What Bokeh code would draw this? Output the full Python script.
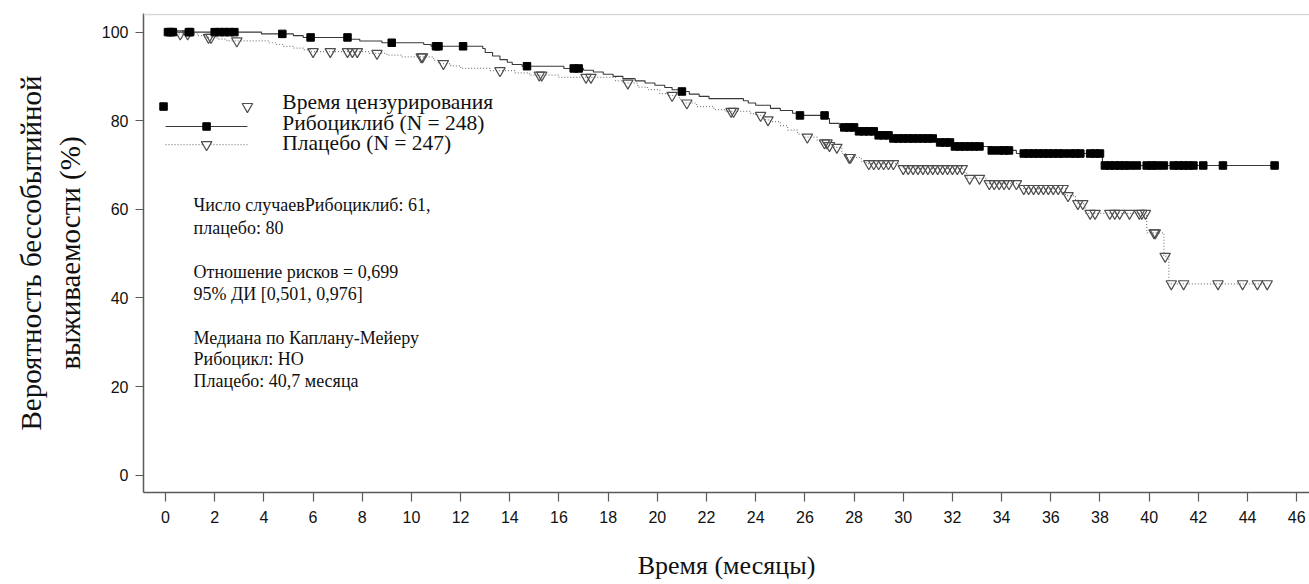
import numpy as np
from bokeh.plotting import figure
from bokeh.models import Range1d, Span, Label, FixedTicker
from bokeh.embed import file_html
from bokeh.resources import INLINE

# ---------------- data ----------------
rib_step_t = [0.0, 3.9, 5.2, 5.6, 7.5, 7.9, 8.8, 10.5, 10.8, 12.9, 13.0, 13.3, 13.6, 13.9,
              14.1, 14.5, 16.2, 17.0, 17.4, 17.8, 18.2, 18.6, 19.1, 19.5, 19.9, 20.3, 20.6,
              20.9, 21.3, 21.7, 22.1, 23.5, 23.7, 24.0, 24.6, 25.0, 25.5, 25.7, 26.9, 27.0,
              27.4, 28.1, 28.9, 29.5, 31.4, 32.0, 33.6, 34.6, 38.1]
rib_step_s = [100.0, 99.6, 99.2, 98.8, 98.4, 98.0, 97.6, 97.2, 96.8, 96.3, 95.4, 94.6, 93.8, 93.2,
              92.7, 92.3, 91.8, 91.4, 91.0, 90.5, 90.0, 89.5, 89.0, 88.5, 88.0, 87.5, 87.0,
              86.6, 86.0, 85.5, 85.0, 84.5, 84.0, 83.5, 82.8, 82.3, 81.7, 81.2, 80.5, 79.4,
              78.5, 77.6, 76.7, 76.0, 75.1, 74.2, 73.3, 72.6, 69.9]
rib_end = 45.2

pla_step_t = [0.0, 0.4, 1.3, 1.6, 2.1, 2.5, 4.2, 4.5, 4.8, 5.2, 5.6, 5.9, 8.3, 9.0, 9.6, 10.9,
              11.1, 11.6, 12.0, 13.2, 14.2, 14.8, 16.0, 18.3, 18.6, 19.2, 19.6, 20.1, 20.5,
              20.9, 21.0, 21.6, 22.3, 22.8, 23.8, 24.0, 24.4, 24.6, 25.0, 25.3, 25.7, 26.0,
              26.5, 26.7, 27.0, 27.2, 27.5, 27.7, 28.3, 28.5, 29.8, 30.0, 32.5, 32.6, 33.4,
              34.7, 36.6, 37.0, 37.1, 37.4, 39.9, 40.6, 40.8]
pla_step_s = [100.0, 99.6, 99.2, 98.8, 98.4, 98.0, 97.6, 97.2, 96.8, 96.4, 96.0, 95.6, 95.2, 94.8,
              94.4, 93.6, 92.9, 92.4, 91.8, 91.3, 90.8, 90.3, 89.8, 89.0, 88.5, 87.6, 87.0,
              86.1, 85.7, 84.8, 84.0, 83.2, 82.5, 82.1, 81.6, 81.2, 80.2, 79.8, 78.9, 77.9,
              77.0, 76.3, 75.5, 75.0, 74.4, 74.0, 72.6, 71.7, 70.8, 70.3, 69.8, 69.2, 68.1,
              67.0, 65.8, 64.7, 63.1, 62.2, 61.3, 59.1, 54.7, 49.4, 43.2]
pla_end = 44.8

rib_censor = [0.1, 0.2, 0.3, 0.95, 1.0, 2.0, 2.2, 2.4, 2.6, 2.8, 4.75, 5.9, 7.4, 9.2, 11.0,
              11.1, 12.1, 14.7, 16.6, 16.8, 21.0, 25.8, 26.8, 27.6, 27.8, 28.0, 28.2, 28.4,
              28.6, 28.8, 29.0, 29.2, 29.4, 29.6, 29.8, 30.0, 30.2, 30.4, 30.6, 30.8, 31.0,
              31.2, 31.5, 31.7, 31.9, 32.1, 32.3, 32.5, 32.7, 32.9, 33.1, 33.6, 33.9, 34.1,
              34.3, 34.9, 35.1, 35.3, 35.5, 35.7, 35.9, 36.1, 36.3, 36.5, 36.8, 37.0, 37.2,
              37.6, 37.8, 38.0, 38.2, 38.4, 38.6, 38.8, 39.0, 39.2, 39.5, 39.9, 40.1, 40.3,
              40.6, 41.0, 41.2, 41.4, 41.6, 41.8, 42.2, 43.0, 45.1]
pla_censor = [0.6, 0.9, 1.75, 1.85, 2.9, 6.0, 6.7, 7.4, 7.6, 7.8, 8.6, 10.4, 10.45, 11.3,
              13.6, 15.2, 15.3, 17.1, 17.3, 18.8, 20.6, 21.2, 23.0, 23.1, 24.2, 24.5, 26.1,
              26.8, 26.9, 27.0, 27.3, 27.8, 27.85, 28.6, 28.8, 29.0, 29.2, 29.4, 29.6, 30.0,
              30.2, 30.4, 30.6, 30.8, 31.0, 31.2, 31.4, 31.6, 31.8, 32.0, 32.2, 32.4, 32.7,
              33.1, 33.5, 33.7, 33.9, 34.1, 34.3, 34.6, 34.9, 35.1, 35.3, 35.5, 35.7, 35.9,
              36.1, 36.3, 36.5, 36.7, 37.1, 37.3, 37.6, 37.8, 38.4, 38.6, 38.8, 39.2, 39.6,
              39.7, 39.85, 40.2, 40.25, 40.65, 40.9, 41.4, 42.8, 43.8, 44.4, 44.8]

x_ticks = list(range(0, 47, 2))
y_ticks = [0, 20, 40, 60, 80, 100]

legend_texts = ["Время цензурирования", "Рибоциклиб (N = 248)", "Плацебо (N = 247)"]
note_lines = ["Число случаевРибоциклиб: 61,", "плацебо: 80", "",
              "Отношение рисков = 0,699", "95% ДИ [0,501, 0,976]", "",
              "Медиана по Каплану-Мейеру", "Рибоцикл: НО", "Плацебо: 40,7 месяца"]
x_title = "Время (месяцы)"
y_title = "Вероятность бессобытийной\nвыживаемости (%)"


def surv(ts, ss, t):
    idx = np.searchsorted(np.array(ts), np.array(t), side="right") - 1
    return np.array(ss)[idx]


SERIF = "Liberation Serif"
SANS = "Liberation Sans"

p = figure(width=1309, height=584, output_backend="svg", toolbar_location=None,
           x_range=Range1d(-0.895, 46.52), y_range=Range1d(-3.9, 104.2),
           min_border_left=143, min_border_right=0, min_border_top=13, min_border_bottom=92)
p.outline_line_color = None
p.xgrid.visible = False
p.ygrid.visible = False
p.background_fill_color = "white"
p.border_fill_color = "white"

# top frame line
p.add_layout(Span(location=104.0, dimension="width", line_color="#d6d6d6", line_width=1.5))

# curves
rx = rib_step_t + [rib_end]
ry = rib_step_s + [rib_step_s[-1]]
p.step(rx, ry, mode="after", line_color="#3a3a3a", line_width=1.1)
px_ = pla_step_t + [pla_end]
py_ = pla_step_s + [pla_step_s[-1]]
p.step(px_, py_, mode="after", line_color="#808080", line_width=1.2, line_dash="1 2")

# censor marks
p.scatter(pla_censor, surv(pla_step_t, pla_step_s, pla_censor), marker="inverted_triangle",
          size=10.5, fill_color=None, line_color="#4d4d4d", line_width=1.2)
p.scatter(rib_censor, surv(rib_step_t, rib_step_s, rib_censor), marker="square",
          size=7.5, fill_color="black", line_color="black")

# legend (drawn by hand)
p.scatter([-0.08], [83.2], marker="square", size=7.5, fill_color="black", line_color="black")
p.scatter([3.33], [83.2], marker="inverted_triangle", size=10.5, fill_color=None,
          line_color="#4d4d4d", line_width=1.2)
p.line([0.0, 3.33], [78.7, 78.7], line_color="#3a3a3a", line_width=1.1)
p.scatter([1.67], [78.7], marker="square", size=7.5, fill_color="black", line_color="black")
p.line([0.0, 3.33], [74.6, 74.6], line_color="#808080", line_width=1.2, line_dash="1 2")
p.scatter([1.67], [74.6], marker="inverted_triangle", size=10.5, fill_color="white",
          line_color="#4d4d4d", line_width=1.2)
for txt, yy in zip(legend_texts, [84.3, 79.4, 74.9]):
    p.add_layout(Label(x=4.75, y=yy, text=txt, text_font=SERIF, text_font_size="21.5px",
                       text_color="#111111", text_baseline="middle", text_align="left"))

# annotation block
note_y = [60.87, 55.68, 50.7, 45.75, 41.0, 36.0, 31.08, 26.34, 21.37]
for txt, yy in zip(note_lines, note_y):
    if txt:
        p.add_layout(Label(x=1.14, y=yy, text=txt, text_font=SERIF, text_font_size="18px",
                           text_color="#111111", text_baseline="middle", text_align="left"))

# axes
for ax in (p.xaxis[0], p.yaxis[0]):
    ax.axis_line_color = "#5a5a5a"
    ax.axis_line_width = 1.5
    ax.major_tick_line_color = "#5a5a5a"
    ax.major_tick_line_width = 1.2
    ax.major_tick_in = 0
    ax.minor_tick_line_color = None
    ax.major_label_text_font = SANS
    ax.major_label_text_font_size = "16px"
    ax.major_label_text_color = "#111111"
    ax.axis_label_text_font = SERIF
    ax.axis_label_text_font_style = "normal"
    ax.axis_label_text_color = "#111111"

p.xaxis.axis_label_text_font_size = "26px"
p.yaxis.axis_label_text_font_size = "29px"
p.xaxis.ticker = FixedTicker(ticks=x_ticks)
p.yaxis.ticker = FixedTicker(ticks=y_ticks)
p.xaxis.major_tick_out = 9
p.yaxis.major_tick_out = 8
p.xaxis.major_label_standoff = 9
p.yaxis.major_label_standoff = 7
p.xaxis.axis_label = x_title
p.yaxis.axis_label = y_title
p.xaxis.axis_label_standoff = 25
p.yaxis.axis_label_standoff = 13

open("out.html", "w").write(file_html(p, INLINE))
